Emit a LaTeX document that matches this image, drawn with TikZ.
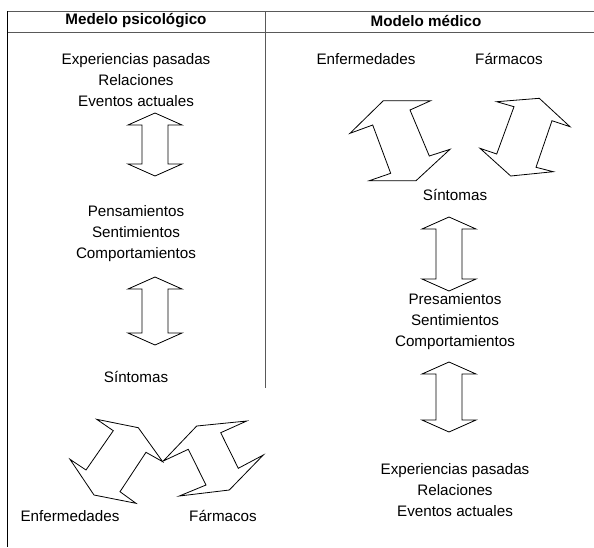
\documentclass[tikz,border=0pt]{standalone}
\usepackage{fontspec}
\setmainfont{Liberation Sans}

\newcommand{\vbiarrow}[3]{%
  \draw [biarrow] (#1,#2) -- ++(27,12) -- ++(-14,0) -- (#1+13,#3-12) -- ++(14,0)
    -- (#1,#3) -- ++(-27,-12) -- ++(14,0) -- (#1-13,#2+12) -- ++(-14,0) -- cycle;}

\begin{document}
\begin{tikzpicture}[x=0.5pt, y=-0.5pt,
    every node/.style={font=\fontsize{7.6}{10.5}\selectfont, align=center, inner sep=0pt},
    head/.style={font=\fontsize{7.6}{10.5}\selectfont\bfseries},
    rule/.style={draw=black!65, line width=0.5pt},
    biarrow/.style={draw, fill=white, line width=0.4pt, line join=miter}]
    \useasboundingbox (0,0) rectangle (594,547);

    \draw [rule] (7,11) -- (594,11);
    \draw [rule] (7,32) -- (594,32);
    \draw [line width=0.5pt] (7,11) -- (7,547);
    \draw [rule] (265,11) -- (265,388);

    \node [head] (hpsy) at (136,21) {Medelo psicológico};
    \node [head] (hmed) at (426,21) {Modelo médico};

    \node (pastL) at (136,80) {Experiencias pasadas\\Relaciones\\Eventos actuales};
    \node (thinkL) at (136,234) {Pensamientos\\Sentimientos\\Comportamientos};
    \node (symL) at (136,377) {Síntomas};
    \node (illL) at (70,516) {Enfermedades};
    \node (drugL) at (223,516) {Fármacos};

    \node (illR) at (366,59) {Enfermedades};
    \node (drugR) at (509,59) {Fármacos};
    \node (symR) at (455,195) {Síntomas};
    \node (thinkR) at (455,322) {Presamientos\\Sentimientos\\Comportamientos};
    \node (pastR) at (455,490) {Experiencias pasadas\\Relaciones\\Eventos actuales};

    \vbiarrow{155}{113}{176}
    \vbiarrow{155}{277}{345}
    \vbiarrow{449}{217}{291}
    \vbiarrow{449}{362}{432}

    \draw [biarrow] (383.3,100.7) -- (430.7,100.7) -- (410,110) -- (429.3,156) -- (450,149.3)
        -- (416,180.7) -- (369.3,180.7) -- (390.7,173.3) -- (372.7,125) -- (350,133.3) -- cycle;
    \draw [biarrow] (496.7,101.7) -- (539.3,98.3) -- (570,126.7) -- (552,120.7) -- (536,167.3)
        -- (553.3,171.7) -- (510.7,176) -- (480,148.3) -- (496.7,154) -- (514,106.7) -- cycle;

    \draw [biarrow] (163.3,461) -- (196.7,426) -- (246.7,421) -- (220.7,432.7) -- (238.3,468.3)
        -- (263.3,455) -- (229.3,490) -- (179.3,496) -- (206,485) -- (188.3,449.3) -- cycle;
    \draw [biarrow] (96.7,419.3) -- (138.3,427.7) -- (162.7,461.7) -- (146,452.3) -- (120,491.7)
        -- (136,503.3) -- (94,495) -- (70,459.3) -- (86,470) -- (113.3,430.7) -- cycle;
\end{tikzpicture}
\end{document}
